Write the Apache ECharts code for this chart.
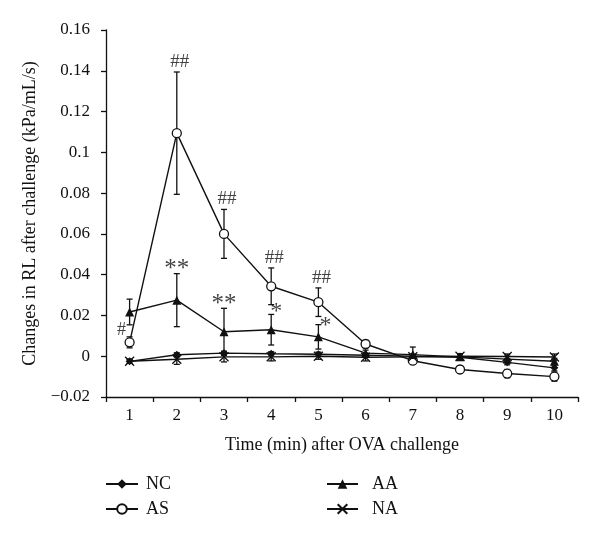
<!DOCTYPE html>
<html>
<head>
<meta charset="utf-8">
<script src="https://cdn.jsdelivr.net/npm/echarts@6/dist/echarts.min.js"></script>
<style>html,body{margin:0;padding:0;background:#fff}#c{width:600px;height:539px}</style>
</head>
<body>
<div id="c"></div>
<script>
// ---- data ----
const categories = ['1','2','3','4','5','6','7','8','9','10'];
const ncValues = [-0.0025, 0.0007, 0.0015, 0.0012, 0.001, 0.0005, 0, -0.0005, -0.003, -0.0057];
const ncErrors = [0.001, 0.001, 0.001, 0.001, 0.001, 0.001, 0.001, 0.0012, 0.0012, 0.0015];
const asValues = [0.0068, 0.1094, 0.0600, 0.0343, 0.0265, 0.0060, -0.0022, -0.0065, -0.0085, -0.0100];
const asErrors = [0.0027, 0.030, 0.012, 0.009, 0.007, 0.0018, 0.0012, 0.0018, 0.002, 0.0022];
const aaValues = [0.0217, 0.0275, 0.0120, 0.0130, 0.0095, 0.0015, 0.0008, -0.0003, -0.0014, -0.0025];
const aaErrors = [0.0063, 0.013, 0.0115, 0.0075, 0.006, 0.0015, 0.0037, 0.0015, 0.0015, 0.0015];
const naValues = [-0.0025, -0.0015, -0.0003, -0.0003, 0, -0.0005, -0.0003, 0, -0.0001, -0.0004];
const naErrors = [0.001, 0.0025, 0.0025, 0.002, 0.0015, 0.0018, 0.001, 0.0012, 0.0012, 0.0015];
const yMin = -0.02, yMax = 0.16, yStep = 0.02;
// annotations: [categoryIndex, text]
const asMarks = [[0, '#'], [1, '##'], [2, '##'], [3, '##'], [4, '##']];
const aaMarks = [[1, '**'], [2, '**'], [3, '*'], [4, '*']];

const FONT = 'Liberation Serif';
const BLACK = '#111';

function errData(vals, errs) { return vals.map((v, i) => [i, v, errs[i]]); }
function errSeries(name, vals, errs) {
  return {
    type: 'custom', name: name + ' err', silent: true, z: 3,
    data: errData(vals, errs),
    encode: { x: 0, y: 1 },
    renderItem: function (params, api) {
      const x = api.value(0), v = api.value(1), e = api.value(2);
      const top = api.coord([x, v + e]);
      const bot = api.coord([x, v - e]);
      const hw = 3;
      const st = { stroke: BLACK, lineWidth: 1.3 };
      return {
        type: 'group',
        children: [
          { type: 'line', shape: { x1: top[0], y1: top[1], x2: bot[0], y2: bot[1] }, style: st },
          { type: 'line', shape: { x1: top[0] - hw, y1: top[1], x2: top[0] + hw, y2: top[1] }, style: st },
          { type: 'line', shape: { x1: bot[0] - hw, y1: bot[1], x2: bot[0] + hw, y2: bot[1] }, style: st }
        ]
      };
    }
  };
}
function lineSeries(name, vals, symbol, size, fill, bw) {
  return {
    type: 'line', name: name, data: vals, symbol: symbol, symbolSize: size, z: 5,
    showAllSymbol: true,
    lineStyle: { color: BLACK, width: 1.4 },
    itemStyle: { color: fill, borderColor: BLACK, borderWidth: bw },
    emphasis: { disabled: true }
  };
}
function markSeries(vals, errs, marks, offsets, sizes) {
  return {
    type: 'scatter', symbol: 'circle', symbolSize: 1, silent: true, z: 6,
    itemStyle: { color: 'rgba(0,0,0,0)' },
    data: marks.map(m => ({
      value: [m[0], vals[m[0]] + errs[m[0]]],
      label: {
        show: true, position: 'inside', formatter: m[1],
        offset: offsets[m[1]] ? offsets[m[1]](m[0]) : [0, 0],
        fontFamily: FONT, fontSize: sizes[m[1]], color: BLACK
      }
    }))
  };
}

const chart = echarts.init(document.getElementById('c'));
chart.setOption({
  animation: false,
  backgroundColor: '#fff',
  textStyle: { fontFamily: FONT, color: BLACK },
  grid: { left: 106, right: 22, top: 30, bottom: 142 },
  legend: [
    {
      data: ['NC', 'AS'], orient: 'vertical', left: 100, top: 470,
      itemWidth: 32, itemHeight: 12, itemGap: 7,
      textStyle: { fontFamily: FONT, fontSize: 18, color: BLACK, padding: [0, 0, 0, 3] }
    },
    {
      data: ['AA', 'NA'], orient: 'vertical', left: 321, top: 470,
      itemWidth: 31, itemHeight: 12, itemGap: 7,
      textStyle: { fontFamily: FONT, fontSize: 18, color: BLACK, padding: [0, 0, 0, 9] }
    }
  ],
  xAxis: {
    type: 'category', data: categories, boundaryGap: true,
    name: 'Time (min) after OVA challenge', nameLocation: 'middle', nameGap: 39,
    nameTextStyle: { fontFamily: FONT, fontSize: 18, color: BLACK },
    axisLine: { onZero: false, lineStyle: { color: BLACK, width: 1.3 } },
    axisTick: { show: true, length: 5, lineStyle: { color: BLACK, width: 1.3 } },
    axisLabel: { fontFamily: FONT, fontSize: 17, color: BLACK, margin: 10 },
    splitLine: { show: false }
  },
  yAxis: {
    type: 'value', min: yMin, max: yMax, interval: yStep,
    name: 'Changes in RL after challenge (kPa/mL/s)', nameLocation: 'middle', nameGap: 63,
    nameTextStyle: { fontFamily: FONT, fontSize: 18, color: BLACK },
    axisLine: { show: true, lineStyle: { color: BLACK, width: 1.3 } },
    axisTick: { show: true, length: 5, lineStyle: { color: BLACK, width: 1.3 } },
    axisLabel: {
      fontFamily: FONT, fontSize: 17, color: BLACK, margin: 16,
      formatter: function (v) {
        const a = parseFloat(Math.abs(v).toFixed(2));
        if (a === 0) return '0';
        return (v < 0 ? '\u22120' : '0') + String(a).slice(1);
      }
    },
    splitLine: { show: false }
  },
  series: [
    errSeries('NC', ncValues, ncErrors),
    errSeries('AS', asValues, asErrors),
    errSeries('AA', aaValues, aaErrors),
    errSeries('NA', naValues, naErrors),
    lineSeries('NC', ncValues, 'diamond', 8, BLACK, 0),
    lineSeries('AS', asValues, 'circle', 9, '#fff', 1.3),
    lineSeries('AA', aaValues, 'triangle', 9, BLACK, 0),
    lineSeries('NA', naValues, 'path://M0,0L10,10M10,0L0,10', 9, BLACK, 1.3),
    markSeries(asValues, asErrors, asMarks, {
      '#': () => [-8, -7],
      '##': () => [3, -10]
    }, { '#': 18, '##': 19 }),
    markSeries(aaValues, aaErrors, aaMarks, {
      '**': () => [0, -4],
      '*': (i) => i === 3 ? [5, -3] : [7, 1]
    }, { '**': 25, '*': 24 })
  ]
});
</script>
</body>
</html>
